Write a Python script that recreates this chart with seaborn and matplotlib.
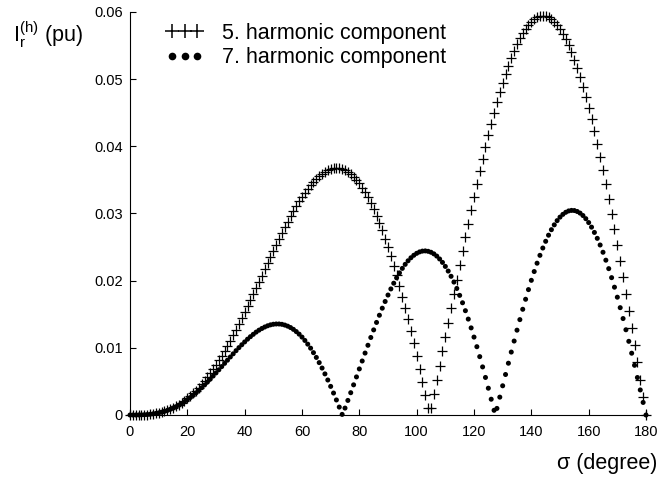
import numpy as np
import pandas as pd
import matplotlib
matplotlib.use("Agg")
import matplotlib.pyplot as plt
from matplotlib.lines import Line2D
import seaborn as sns

# ---------------- data ----------------
sigma = np.arange(0, 181)  # sampling grid, degrees (1 degree step)

harm5 = [
    0.0, 0.0, 0.0, 0.00001, 0.00002, 0.00004, 0.00007, 0.00011, 0.00017, 0.00024,
    0.00033, 0.00043, 0.00056, 0.00071, 0.00088, 0.00107, 0.00129, 0.00154, 0.00182, 0.00212,
    0.00246, 0.00282, 0.00321, 0.00363, 0.00409, 0.00458, 0.00510, 0.00565, 0.00623, 0.00684,
    0.00748, 0.00814, 0.00884, 0.00956, 0.01032, 0.01109, 0.01189, 0.01271, 0.01355, 0.01440,
    0.01528, 0.01617, 0.01707, 0.01798, 0.01890, 0.01982, 0.02075, 0.02168, 0.02260, 0.02352,
    0.02443, 0.02533, 0.02622, 0.02709, 0.02794, 0.02877, 0.02957, 0.03035, 0.03109, 0.03180,
    0.03248, 0.03311, 0.03370, 0.03425, 0.03475, 0.03520, 0.03559, 0.03593, 0.03622, 0.03644,
    0.03661, 0.03670, 0.03674, 0.03670, 0.03660, 0.03643, 0.03618, 0.03587, 0.03548, 0.03502,
    0.03448, 0.03386, 0.03317, 0.03241, 0.03157, 0.03066, 0.02967, 0.02861, 0.02748, 0.02627,
    0.02500, 0.02366, 0.02225, 0.02077, 0.01923, 0.01764, 0.01598, 0.01427, 0.01250, 0.01069,
    0.00883, 0.00692, 0.00497, 0.00299, 0.00097, 0.00107, 0.00314, 0.00524, 0.00735, 0.00947,
    0.01161, 0.01374, 0.01588, 0.01801, 0.02014, 0.02226, 0.02435, 0.02643, 0.02848, 0.03049,
    0.03248, 0.03442, 0.03632, 0.03817, 0.03997, 0.04171, 0.04339, 0.04501, 0.04655, 0.04803,
    0.04943, 0.05075, 0.05199, 0.05314, 0.05421, 0.05518, 0.05606, 0.05684, 0.05752, 0.05810,
    0.05858, 0.05895, 0.05922, 0.05939, 0.05944, 0.05939, 0.05922, 0.05895, 0.05857, 0.05807,
    0.05748, 0.05677, 0.05595, 0.05503, 0.05400, 0.05287, 0.05164, 0.05031, 0.04889, 0.04737,
    0.04576, 0.04406, 0.04227, 0.04040, 0.03845, 0.03643, 0.03433, 0.03217, 0.02995, 0.02766,
    0.02533, 0.02294, 0.02050, 0.01803, 0.01552, 0.01298, 0.01042, 0.00783, 0.00523, 0.00262,
    0.0,
]

harm7 = [
    0.0, 0.0, 0.0, 0.00001, 0.00002, 0.00004, 0.00007, 0.00011, 0.00017, 0.00023,
    0.00032, 0.00042, 0.00054, 0.00068, 0.00085, 0.00103, 0.00123, 0.00146, 0.00171, 0.00198,
    0.00228, 0.00259, 0.00293, 0.00329, 0.00367, 0.00406, 0.00447, 0.00490, 0.00534, 0.00580,
    0.00626, 0.00673, 0.00721, 0.00769, 0.00816, 0.00864, 0.00911, 0.00958, 0.01003, 0.01046,
    0.01088, 0.01129, 0.01166, 0.01201, 0.01234, 0.01263, 0.01288, 0.01310, 0.01328, 0.01342,
    0.01351, 0.01355, 0.01355, 0.01350, 0.01339, 0.01323, 0.01302, 0.01275, 0.01242, 0.01204,
    0.01160, 0.01110, 0.01055, 0.00995, 0.00928, 0.00857, 0.00780, 0.00699, 0.00612, 0.00521,
    0.00426, 0.00327, 0.00224, 0.00118, 0.00009, 0.00103, 0.00217, 0.00332, 0.00449, 0.00567,
    0.00686, 0.00804, 0.00922, 0.01038, 0.01154, 0.01267, 0.01378, 0.01485, 0.01590, 0.01690,
    0.01786, 0.01877, 0.01962, 0.02042, 0.02116, 0.02183, 0.02243, 0.02296, 0.02341, 0.02378,
    0.02407, 0.02428, 0.02440, 0.02443, 0.02437, 0.02423, 0.02399, 0.02366, 0.02323, 0.02272,
    0.02212, 0.02143, 0.02065, 0.01979, 0.01884, 0.01781, 0.01671, 0.01553, 0.01428, 0.01297,
    0.01160, 0.01017, 0.00869, 0.00716, 0.00559, 0.00399, 0.00235, 0.00070, 0.00098, 0.00266,
    0.00435, 0.00603, 0.00771, 0.00937, 0.01101, 0.01263, 0.01420, 0.01574, 0.01723, 0.01867,
    0.02005, 0.02136, 0.02260, 0.02377, 0.02486, 0.02586, 0.02677, 0.02759, 0.02831, 0.02894,
    0.02946, 0.02987, 0.03018, 0.03038, 0.03046, 0.03044, 0.03030, 0.03006, 0.02970, 0.02923,
    0.02865, 0.02797, 0.02718, 0.02630, 0.02531, 0.02423, 0.02305, 0.02179, 0.02045, 0.01903,
    0.01754, 0.01598, 0.01436, 0.01269, 0.01097, 0.00920, 0.00740, 0.00558, 0.00373, 0.00187,
    0.0,
]

x_ticks = [0, 20, 40, 60, 80, 100, 120, 140, 160, 180]
y_ticks = [0, 0.01, 0.02, 0.03, 0.04, 0.05, 0.06]
y_tick_labels = ["0", "0.01", "0.02", "0.03", "0.04", "0.05", "0.06"]
legend_labels = ["5. harmonic component", "7. harmonic component"]
y_label = r"I$_\mathregular{r}^\mathregular{(h)}$ (pu)"
x_label = "σ (degree)"

# ---------------- style ----------------
sns.set_theme(style="ticks")
plt.rcParams["font.family"] = ["Liberation Sans", "DejaVu Sans"]
plt.rcParams["mathtext.fontset"] = "custom"
plt.rcParams["mathtext.rm"] = "Liberation Sans"
plt.rcParams["mathtext.it"] = "Liberation Sans:italic"
plt.rcParams["text.color"] = "black"

W, H = 659, 479
fig = plt.figure(figsize=(W / 100, H / 100), dpi=100)
ax = fig.add_axes([130 / W, 1 - 415 / H, (646 - 130) / W, (415 - 12) / H])

df = pd.DataFrame({"sigma": sigma, "h5": harm5, "h7": harm7})

sns.scatterplot(data=df, x="sigma", y="h7", marker="o", s=13, color="black",
                edgecolor="none", linewidth=0, ax=ax, clip_on=False,
                zorder=3, legend=False)
sns.scatterplot(data=df, x="sigma", y="h5", marker="+", s=42, color="black",
                linewidth=0.9, ax=ax, clip_on=False, zorder=3, legend=False)

ax.set_xlim(0, 180)
ax.set_ylim(0, 0.06)
ax.set_xticks(x_ticks)
ax.set_xticklabels([str(t) for t in x_ticks])
ax.set_yticks(y_ticks)
ax.set_yticklabels(y_tick_labels)
ax.set_xlabel("")
ax.set_ylabel("")
sns.despine(ax=ax)
for s in ["left", "bottom"]:
    ax.spines[s].set_color("black")
    ax.spines[s].set_linewidth(0.8)
ax.tick_params(axis="both", direction="in", length=4.5, width=0.8,
               colors="black", labelsize=10.5)
ax.tick_params(axis="x", pad=7)
ax.tick_params(axis="y", pad=5)

fig.text(13 / W, 1 - 35 / H, y_label, fontsize=15.5, ha="left", va="center")
fig.text(557 / W, 1 - 463 / H, x_label, fontsize=15.5, ha="left", va="center")

handles = [
    Line2D([], [], ls="", marker="+", color="black", ms=10, mew=1.1),
    Line2D([], [], ls="", marker="o", color="black", ms=5.5, mec="none"),
]
ax.legend(handles, legend_labels, numpoints=3, frameon=False, loc="upper left",
          bbox_to_anchor=(166 / W, 1 - 23 / H), bbox_transform=fig.transFigure,
          fontsize=15.5, handlelength=1.75, handletextpad=0.85, labelspacing=0.15,
          borderpad=0, borderaxespad=0)

fig.savefig("out.png", dpi=100)
